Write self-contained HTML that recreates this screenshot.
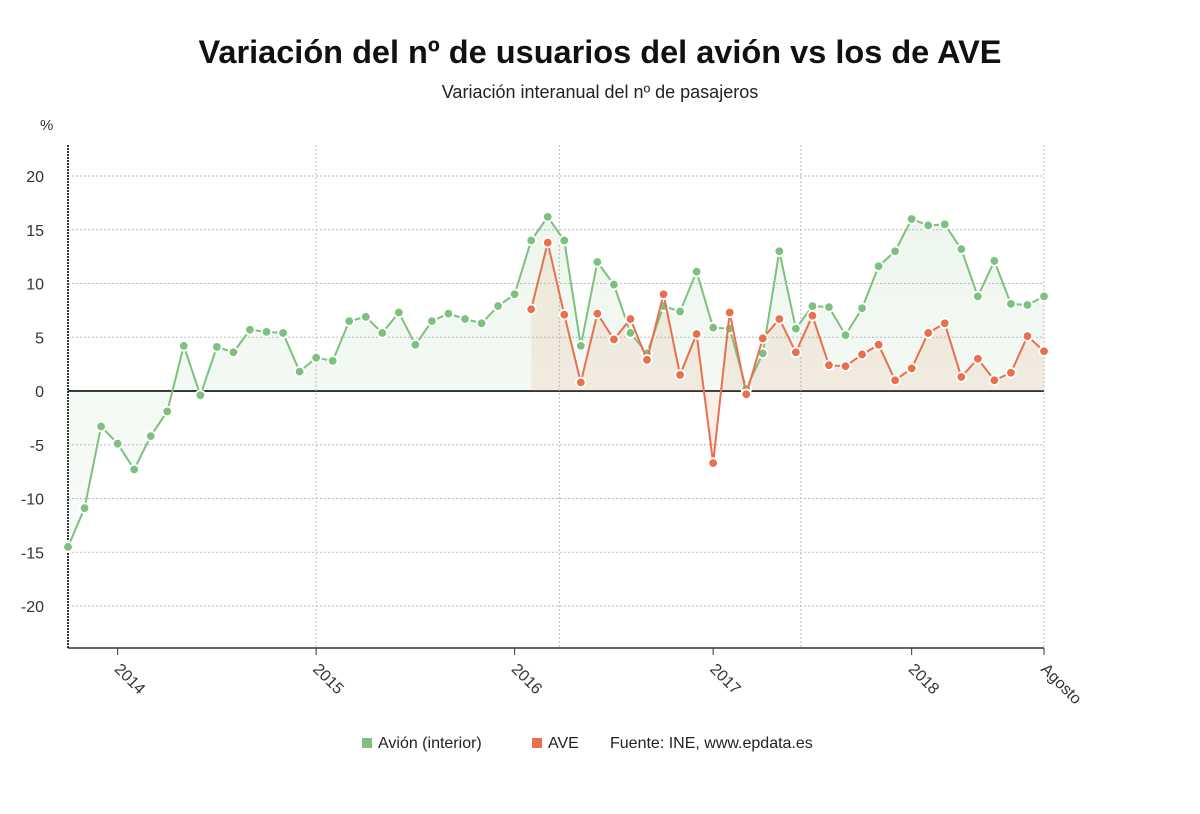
<!DOCTYPE html>
<html><head><meta charset="utf-8"><style>
body{margin:0;background:#fff;font-family:"Liberation Sans",sans-serif;}
</style></head><body>
<svg width="1200" height="809" viewBox="0 0 1200 809" xmlns="http://www.w3.org/2000/svg">
<defs>
<linearGradient id="gg" x1="0" y1="0" x2="0" y2="1"><stop offset="0" stop-color="#7dc07f" stop-opacity="0.14"/><stop offset="1" stop-color="#7dc07f" stop-opacity="0.05"/></linearGradient>
</defs>
<text x="600" y="63" text-anchor="middle" font-size="32.5" font-weight="bold" fill="#111">Variación del nº de usuarios del avión vs los de AVE</text>
<text x="600" y="98" text-anchor="middle" font-size="18" fill="#222">Variación interanual del nº de pasajeros</text>
<text x="40" y="130" font-size="15" fill="#333">%</text>
<g id="grid"></g>
<g id="areas"></g>
<g id="lines"></g>
<g id="xlabels"></g>
<g font-size="16" fill="#222">
<rect x="362" y="738" width="10" height="10" fill="#7dc07f"/>
<text x="378" y="748">Avión (interior)</text>
<rect x="532" y="738" width="10" height="10" fill="#e8704f"/>
<text x="548" y="748">AVE</text>
<text x="610" y="748">Fuente: INE, www.epdata.es</text>
</g>
</svg>
<script>
const avion=[-14.5,-10.9,-3.3,-4.9,-7.3,-4.2,-1.9,4.2,-0.4,4.1,3.6,5.7,5.5,5.4,1.8,3.1,2.8,6.5,6.9,5.4,7.3,4.3,6.5,7.2,6.7,6.3,7.9,9.0,14.0,16.2,14.0,4.2,12.0,9.9,5.4,3.5,7.9,7.4,11.1,5.9,5.8,0.2,3.5,13.0,5.8,7.9,7.8,5.2,7.7,11.6,13.0,16.0,15.4,15.5,13.2,8.8,12.1,8.1,8.0,8.8];
const aveStart=28;
const ave=[7.6,13.8,7.1,0.8,7.2,4.8,6.7,2.9,9.0,1.5,5.3,-6.7,7.3,-0.3,4.9,6.7,3.6,7.0,2.4,2.3,3.4,4.3,1.0,2.1,5.4,6.3,1.3,3.0,1.0,1.7,5.1,3.7];
const yTicks=[20,15,10,5,0,-5,-10,-15,-20];
const xLabels=["2014","2015","2016","2017","2018","Agosto"];
const xLabelIdx=[3,15,27,39,51,59];
const NS="http://www.w3.org/2000/svg";
const x=i=>68+i*(1044-68)/59;
const y=v=>391-v*10.75;
function mk(t,a,p){const e=document.createElementNS(NS,t);for(const k in a)e.setAttribute(k,a[k]);p.appendChild(e);return e;}
const grid=document.getElementById('grid');
yTicks.forEach(v=>{
 const l=mk('line',{x1:68,x2:1044,y1:y(v),y2:y(v),stroke:v===0?'#333':'#bbb','stroke-width':v===0?2:1,'stroke-dasharray':v===0?'':'2,2'},grid);
 
 
 const t=mk('text',{x:44,y:y(v)+6,'text-anchor':'end','font-size':16,fill:'#333'},grid);t.textContent=v;
 
 
});
[15,29.7,44.3,59].forEach(i=>{const l=mk('line',{x1:x(i),x2:x(i),y1:145,y2:648,stroke:'#bbb','stroke-dasharray':'2,2'},grid);
 
 });
const ax=mk('line',{x1:68,x2:68,y1:145,y2:648,stroke:'#333','stroke-width':2,'stroke-dasharray':'2,1'},grid);


const bx=mk('line',{x1:68,x2:1044,y1:648,y2:648,stroke:'#333','stroke-width':1.5},grid);


function series(vals,off,col,fill,name){
 const pts=vals.map((v,k)=>[x(k+off),y(v)]);
 const a=mk('path',{d:'M'+pts[0][0]+','+y(0)+pts.map(p=>'L'+p[0]+','+p[1]).join('')+'L'+pts[pts.length-1][0]+','+y(0)+'Z',fill:fill,stroke:'none'},document.getElementById('areas'));
 
 
 const g=document.getElementById('lines');
 const l=mk('polyline',{points:pts.map(p=>p.join(',')).join(' '),fill:'none',stroke:col,'stroke-width':2},g);
 
 
 pts.forEach(p=>{const c=mk('circle',{cx:p[0],cy:p[1],r:4.8,fill:col,stroke:'#fff','stroke-width':1.8},g);
  
  });
}
series(avion,0,'#7dc07f','url(#gg)','avion');
series(ave,aveStart,'#e8704f','rgba(232,160,120,0.16)','ave');
const xl=document.getElementById('xlabels');
xLabels.forEach((s,k)=>{const px=x(xLabelIdx[k]);
 const tk=mk('line',{x1:px,x2:px,y1:648,y2:655,stroke:'#333'},xl);
 
 
 const t=mk('text',{x:px-4,y:670,'font-size':16,fill:'#333',transform:`rotate(45 ${px-4} 670)`},xl);t.textContent=s;
 
 });
</script>
</body></html>
